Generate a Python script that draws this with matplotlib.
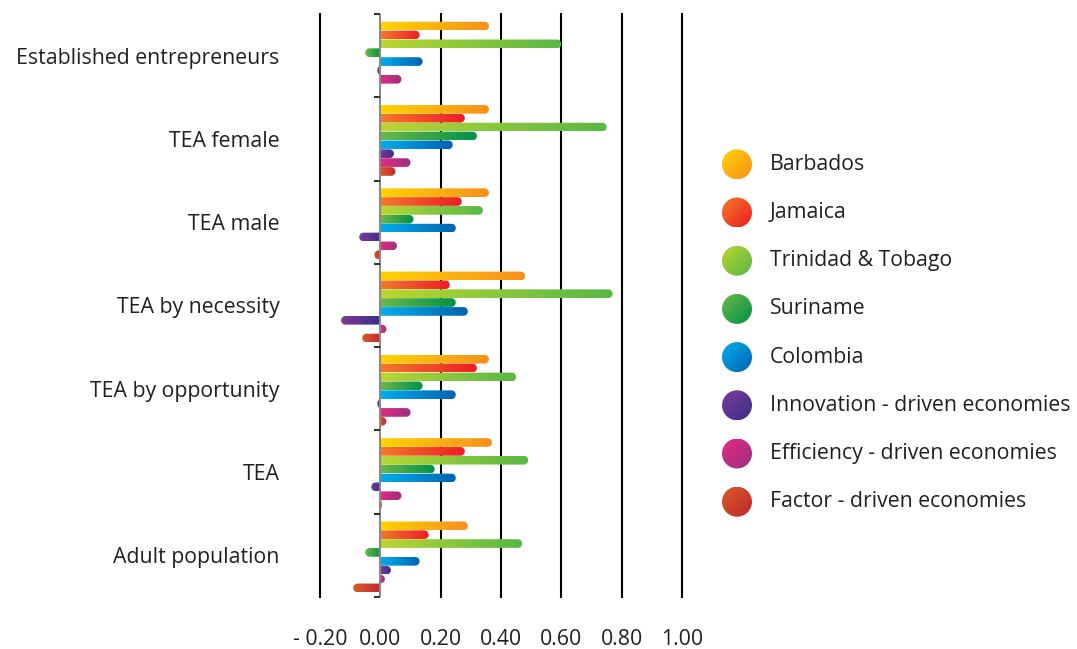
import numpy as np
import matplotlib
matplotlib.use("Agg")
import matplotlib.pyplot as plt
from matplotlib.colors import LinearSegmentedColormap
from matplotlib.patches import PathPatch, Circle
from matplotlib.path import Path

plt.rcParams['font.family'] = ['Open Sans', 'DejaVu Sans']

categories = ["Established entrepreneurs", "TEA female", "TEA male", "TEA by necessity",
              "TEA by opportunity", "TEA", "Adult population"]
series_names = ["Barbados", "Jamaica", "Trinidad & Tobago", "Suriname", "Colombia",
                "Innovation - driven economies", "Efficiency - driven economies",
                "Factor - driven economies"]
barbados   = [0.36, 0.36, 0.36, 0.48, 0.36, 0.37, 0.29]
jamaica    = [0.13, 0.28, 0.27, 0.23, 0.32, 0.28, 0.16]
trinidad   = [0.60, 0.75, 0.34, 0.77, 0.45, 0.49, 0.47]
suriname   = [-0.05, 0.32, 0.11, 0.25, 0.14, 0.18, -0.05]
colombia   = [0.14, 0.24, 0.25, 0.29, 0.25, 0.25, 0.13]
innovation = [-0.01, 0.045, -0.07, -0.13, -0.01, -0.03, 0.035]
efficiency = [0.07, 0.10, 0.055, 0.02, 0.10, 0.07, 0.015]
factor     = [0.0, 0.05, -0.02, -0.06, 0.02, 0.005, -0.09]
series = [barbados, jamaica, trinidad, suriname, colombia, innovation, efficiency, factor]

grad_colors = [("#FFD400", "#F7901E"), ("#F47A2A", "#ED1C24"), ("#BCD631", "#57B847"),
               ("#6CB846", "#00914A"), ("#00AEEF", "#0063AF"), ("#7D3A97", "#3A2F8A"),
               ("#E62A82", "#98307F"), ("#DA5A2A", "#C0272D")]

xticks = [-0.2, 0.0, 0.2, 0.4, 0.6, 0.8, 1.0]
xticklabels = ["- 0.20", "0.00", "0.20", "0.40", "0.60", "0.80", "1.00"]

FS = 15.3
TXT = "#231F20"

W, H = 1077, 649
fig = plt.figure(figsize=(W / 100, H / 100), dpi=100)
ax_l, ax_r, ax_t, ax_b = 320, 682, 14, 597
ax = fig.add_axes([ax_l / W, 1 - ax_b / H, (ax_r - ax_l) / W, (ax_b - ax_t) / H])
ncat = len(categories)
ax.set_xlim(-0.2, 1.0)
ax.set_ylim(ncat, 0)
for s in ax.spines.values():
    s.set_visible(False)

# grid lines
for xv in xticks:
    if xv == 0:
        continue
    ax.axvline(xv, color="black", lw=1.5, clip_on=False, zorder=1)
ax.axvline(0, color="#8a8a8a", lw=1.5, zorder=4)
ax.hlines(np.arange(ncat + 1), -0.022, 0, color="#333333", lw=1.5, zorder=4, clip_on=False)

# bar geometry
slot = 0.1065
bh = 0.104
first = 0.145
px_per_x = (ax_r - ax_l) / 1.2
px_per_y = (ax_b - ax_t) / ncat
ry = bh / 2
rx = ry * px_per_y / px_per_x


def bar_path(yc, v):
    L = abs(v)
    sgn = 1 if v >= 0 else -1
    r = min(rx, L)
    t = np.linspace(-np.pi / 2, np.pi / 2, 30)
    xs = sgn * (L - r + r * np.cos(t))
    ys = yc + ry * np.sin(t)
    verts = [(0, yc - ry)] + list(zip(xs, ys)) + [(0, yc + ry), (0, yc - ry)]
    return Path(verts)


for j, vals in enumerate(series):
    cmap = LinearSegmentedColormap.from_list("g%d" % j, grad_colors[j])
    for i, v in enumerate(vals):
        if abs(v) < 1e-9:
            continue
        yc = i + first + j * slot
        patch = PathPatch(bar_path(yc, v), facecolor="none", edgecolor="none")
        ax.add_patch(patch)
        x0, x1 = min(0, v), max(0, v)
        grad = np.linspace(0, 1, 256).reshape(1, -1)
        im = ax.imshow(grad, cmap=cmap, extent=[x0, x1, yc + ry, yc - ry],
                       aspect="auto", interpolation="bilinear", zorder=3)
        im.set_clip_path(patch)

ax.set_xlim(-0.2, 1.0)
ax.set_ylim(ncat, 0)

ax.set_xticks(xticks)
ax.set_xticklabels(xticklabels, fontsize=FS, color=TXT)
ax.tick_params(axis="x", length=0, pad=23)
ax.set_yticks(np.arange(ncat) + 0.5)
ax.set_yticklabels(categories, fontsize=FS, color=TXT)
ax.tick_params(axis="y", length=0, pad=29)

# legend
lg = fig.add_axes([700 / W, 1 - 520 / H, 377 / W, 380 / H])
lg.set_xlim(0, 377)
lg.set_ylim(380, 0)
lg.axis("off")
n = 64
gi, gj = np.mgrid[0:n, 0:n]
diag = (gi + gj) / (2 * (n - 1))
for k, name in enumerate(series_names):
    cy = 24.3 + k * 48.2
    cx, r = 37, 15
    circ = Circle((cx, cy), r, facecolor="none", edgecolor="none")
    lg.add_patch(circ)
    cmap = LinearSegmentedColormap.from_list("l%d" % k, grad_colors[k])
    im = lg.imshow(diag, cmap=cmap, extent=[cx - r, cx + r, cy + r, cy - r],
                   aspect="auto", interpolation="bilinear")
    im.set_clip_path(circ)
    lg.text(70, cy, name, fontsize=FS, color=TXT, va="center", ha="left")
lg.set_xlim(0, 377)
lg.set_ylim(380, 0)

fig.savefig("out.png", dpi=100)
